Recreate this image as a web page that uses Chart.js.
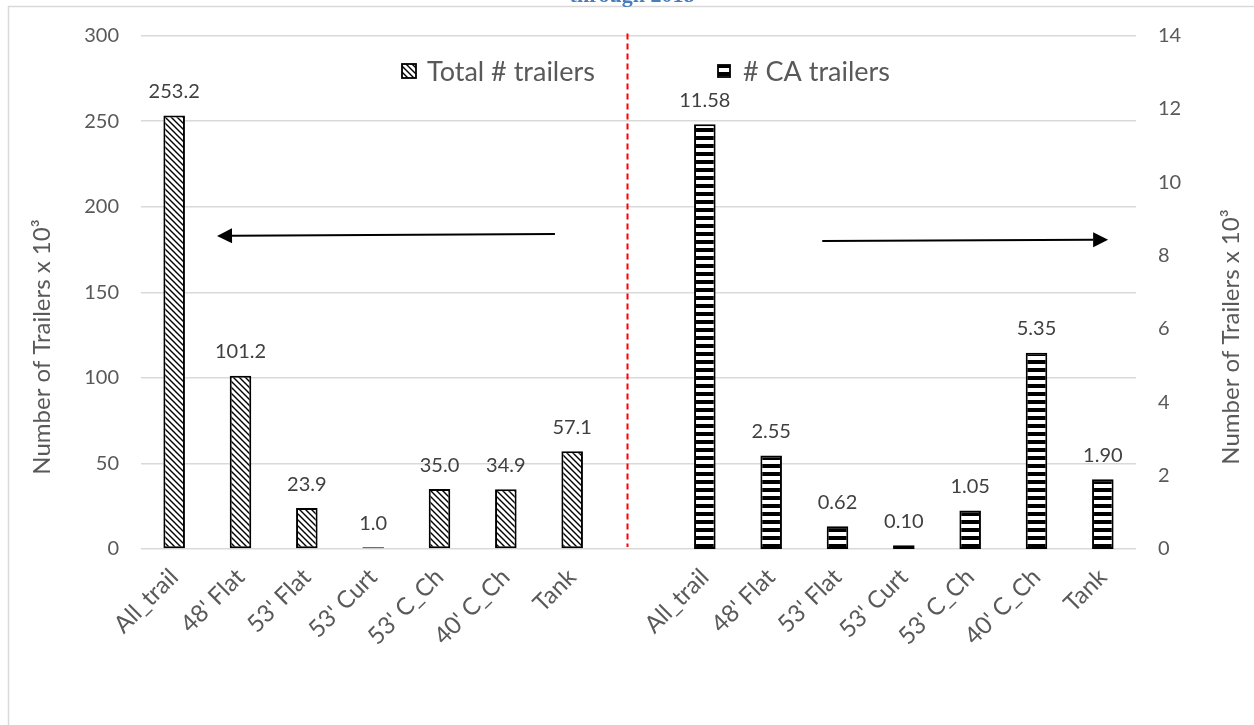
<!DOCTYPE html>
<html>
<head>
<meta charset="utf-8">
<title>Trailers by type</title>
<script src="https://cdn.jsdelivr.net/npm/chart.js@4/dist/chart.umd.min.js"></script>
<style>
  html, body { margin: 0; padding: 0; background: #ffffff; }
  #wrap { width: 1254px; height: 725px; }
</style>
</head>
<body>
<div id="wrap"><canvas id="chart" width="1254" height="725"></canvas></div>
<script>
// Trailer types, drawn twice: total fleet on the left axis, CA fleet on the right axis
const trailerTypes = ["All_trail", "48' Flat", "53' Flat", "53' Curt", "53' C_Ch", "40' C_Ch", "Tank"];
const categories = [...trailerTypes, "", ...trailerTypes];

// Thousands of trailers
const totalTrailers = [253.2, 101.2, 23.9, 1.0, 35.0, 34.9, 57.1];
const caTrailers = [11.58, 2.55, 0.62, 0.10, 1.05, 5.35, 1.90];

const seriesNames = ["Total # trailers", "# CA trailers"];
const labelDecimals = [1, 2];

const leftTicks = { min: 0, max: 300, step: 50 };
const rightTicks = { min: 0, max: 14, step: 2 };

const axisTitle = "Number of Trailers x 10\u00B3";
const chartTitle = "through 2018";

// Each series occupies its own half of the category axis
const totalSeries = [...totalTrailers, ...new Array(trailerTypes.length + 1).fill(null)];
const caSeries = [...new Array(trailerTypes.length + 1).fill(null), ...caTrailers];

const FONT = "Lato, 'Open Sans', sans-serif";

function diagonalPattern() {
  const c = document.createElement('canvas');
  c.width = 6; c.height = 6;
  const g = c.getContext('2d');
  g.fillStyle = '#ffffff';
  g.fillRect(0, 0, 6, 6);
  g.strokeStyle = '#000000';
  g.lineWidth = 1.4;
  g.beginPath();
  g.moveTo(-1, -1); g.lineTo(7, 7);
  g.moveTo(-4, 2); g.lineTo(4, 10);
  g.moveTo(2, -4); g.lineTo(10, 4);
  g.stroke();
  return g.createPattern(c, 'repeat');
}

function stripePattern() {
  const c = document.createElement('canvas');
  c.width = 8; c.height = 8;
  const g = c.getContext('2d');
  g.fillStyle = '#ffffff';
  g.fillRect(0, 0, 8, 8);
  g.fillStyle = '#000000';
  g.fillRect(0, 0, 8, 4);
  return g.createPattern(c, 'repeat');
}

const patterns = [diagonalPattern(), stripePattern()];

// Frame, cut-off title, divider, arrows, legend, axis titles and value labels
const decorations = {
  id: 'decorations',
  beforeDraw(chart) {
    const ctx = chart.ctx;
    ctx.save();
    ctx.fillStyle = '#ffffff';
    ctx.fillRect(0, 0, chart.width, chart.height);
    ctx.strokeStyle = '#d9d9d9';
    ctx.lineWidth = 1.5;
    ctx.strokeRect(8.5, 6.5, chart.width + 20, chart.height + 20);
    ctx.fillStyle = '#4a7ebb';
    ctx.font = "bold 22px 'Liberation Serif', serif";
    ctx.textAlign = 'center';
    ctx.textBaseline = 'alphabetic';
    ctx.fillText(chartTitle, 632, 2);
    ctx.restore();
  },
  afterDatasetsDraw(chart) {
    const ctx = chart.ctx;
    const x = chart.scales.x, yL = chart.scales.yLeft, yR = chart.scales.yRight;
    const area = chart.chartArea;
    ctx.save();

    // dashed divider between the two halves
    const dx = Math.round(x.getPixelForValue(6.82)) + 0.5;
    ctx.strokeStyle = '#ff0000';
    ctx.lineWidth = 2;
    ctx.setLineDash([6, 4]);
    ctx.beginPath();
    ctx.moveTo(dx, area.top - 2);
    ctx.lineTo(dx, area.bottom - 2);
    ctx.stroke();
    ctx.setLineDash([]);

    // arrows pointing to the axis each half uses
    function arrow(x0, y0, x1, y1) {
      const ang = Math.atan2(y1 - y0, x1 - x0);
      const len = 15, half = 7.5;
      const bx = x1 - len * Math.cos(ang), by = y1 - len * Math.sin(ang);
      ctx.strokeStyle = '#000000';
      ctx.fillStyle = '#000000';
      ctx.lineWidth = 2;
      ctx.beginPath();
      ctx.moveTo(x0, y0);
      ctx.lineTo(bx, by);
      ctx.stroke();
      ctx.beginPath();
      ctx.moveTo(x1, y1);
      ctx.lineTo(bx + half * Math.sin(ang), by - half * Math.cos(ang));
      ctx.lineTo(bx - half * Math.sin(ang), by + half * Math.cos(ang));
      ctx.closePath();
      ctx.fill();
    }
    arrow(x.getPixelForValue(5.74), yL.getPixelForValue(184.1),
          x.getPixelForValue(0.646), yL.getPixelForValue(182.9));
    arrow(x.getPixelForValue(9.77), yR.getPixelForValue(8.40),
          x.getPixelForValue(14.08), yR.getPixelForValue(8.43));

    // value labels above bars
    ctx.font = '20px ' + FONT;
    ctx.fillStyle = '#404040';
    ctx.textAlign = 'center';
    ctx.textBaseline = 'middle';
    chart.data.datasets.forEach((ds, i) => {
      const meta = chart.getDatasetMeta(i);
      meta.data.forEach((bar, j) => {
        const v = ds.data[j];
        if (v === null || v === undefined) return;
        ctx.fillText(v.toFixed(labelDecimals[i]), bar.x, bar.y - 24);
      });
    });

    // legend entries
    const legendSpots = [{ box: 402, y: 71, size: 14 }, { box: 718, y: 71, size: 12 }];
    ctx.textAlign = 'left';
    ctx.font = '27px ' + FONT;
    chart.data.datasets.forEach((ds, i) => {
      const s = legendSpots[i];
      ctx.fillStyle = ds.backgroundColor;
      ctx.fillRect(s.box, s.y - s.size / 2, s.size, s.size);
      ctx.strokeStyle = '#000000';
      ctx.lineWidth = 1.8;
      ctx.strokeRect(s.box, s.y - s.size / 2, s.size, s.size);
      ctx.fillStyle = '#595959';
      ctx.fillText(ds.label, s.box + 25, s.y + 1);
    });

    // axis titles
    ctx.font = '24px ' + FONT;
    ctx.fillStyle = '#595959';
    ctx.textAlign = 'center';
    ctx.save();
    ctx.translate(42, 347);
    ctx.rotate(-Math.PI / 2);
    ctx.fillText(axisTitle, 0, 0);
    ctx.restore();
    ctx.save();
    ctx.translate(1231, 337);
    ctx.rotate(-Math.PI / 2);
    ctx.fillText(axisTitle, 0, 0);
    ctx.restore();

    ctx.restore();
  }
};

new Chart(document.getElementById('chart'), {
  type: 'bar',
  data: {
    labels: categories,
    datasets: [
      {
        label: seriesNames[0],
        data: totalSeries,
        yAxisID: 'yLeft',
        backgroundColor: patterns[0],
        borderColor: '#000000',
        borderWidth: 2,
        borderSkipped: false,
        grouped: false
      },
      {
        label: seriesNames[1],
        data: caSeries,
        yAxisID: 'yRight',
        backgroundColor: patterns[1],
        borderColor: '#000000',
        borderWidth: 2,
        borderSkipped: false,
        grouped: false
      }
    ]
  },
  options: {
    responsive: false,
    animation: false,
    devicePixelRatio: 1,
    categoryPercentage: 0.65,
    barPercentage: 0.5,
    layout: { padding: { top: 35.5, left: 0, right: 0, bottom: 0 } },
    plugins: {
      legend: { display: false },
      tooltip: { enabled: false },
      title: { display: false }
    },
    scales: {
      x: {
        grid: { display: false },
        border: { display: false },
        ticks: {
          autoSkip: false,
          minRotation: 45,
          maxRotation: 45,
          padding: 6,
          color: '#595959',
          font: { family: FONT, size: 24 }
        },
        afterFit(scale) { scale.height = 176; }
      },
      yLeft: {
        position: 'left',
        min: leftTicks.min,
        max: leftTicks.max,
        ticks: {
          stepSize: leftTicks.step,
          padding: 22,
          color: '#595959',
          font: { family: FONT, size: 20 }
        },
        grid: { color: '#d9d9d9', lineWidth: 1.5, drawTicks: false },
        border: { display: false },
        afterFit(scale) { scale.width = 141; }
      },
      yRight: {
        position: 'right',
        min: rightTicks.min,
        max: rightTicks.max,
        ticks: {
          stepSize: rightTicks.step,
          padding: 22,
          color: '#595959',
          font: { family: FONT, size: 20 }
        },
        grid: { display: false, drawTicks: false },
        border: { display: false },
        afterFit(scale) { scale.width = 118; }
      }
    }
  },
  plugins: [decorations]
});
</script>
</body>
</html>
